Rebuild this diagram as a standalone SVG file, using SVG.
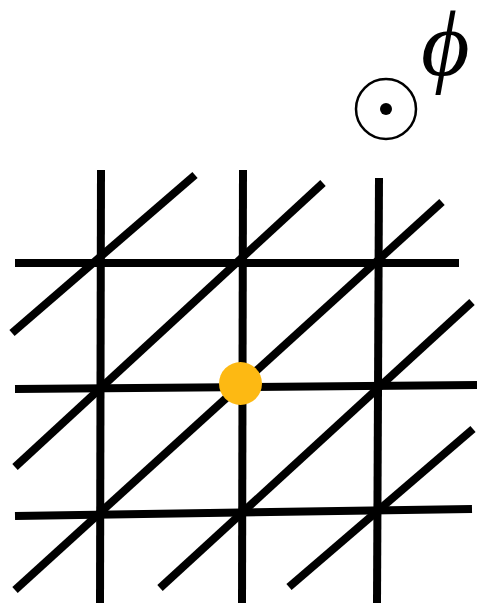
<svg xmlns="http://www.w3.org/2000/svg" width="477" height="603" viewBox="0 0 477 603">
<style>
.ln{stroke:#000;stroke-width:8;fill:none;stroke-linecap:butt}
.phi{font-family:"Liberation Serif","DejaVu Serif",serif;font-style:italic;font-size:94px;fill:#000}
</style>
<rect width="477" height="603" fill="#fff"/>
<g id="connectors">
<line class="ln" x1="101" y1="170" x2="100" y2="603"/>
<line class="ln" x1="243" y1="170" x2="242" y2="603"/>
<line class="ln" x1="379" y1="178" x2="377" y2="603"/>
<line class="ln" x1="15" y1="263" x2="459" y2="263"/>
<line class="ln" x1="15" y1="389" x2="477" y2="385"/>
<line class="ln" x1="15" y1="516" x2="472" y2="509"/>
<line class="ln" x1="12" y1="333" x2="195" y2="175"/>
<line class="ln" x1="15" y1="467" x2="323" y2="183"/>
<line class="ln" x1="15" y1="590" x2="442" y2="202"/>
<line class="ln" x1="160" y1="588" x2="472" y2="302"/>
<line class="ln" x1="289" y1="587" x2="473" y2="429"/>
</g>
<g id="point">
<circle cx="240.5" cy="383.5" r="21.5" fill="#FDB913"/>
</g>
<g id="out-of-plane">
<circle cx="386" cy="109" r="30" fill="none" stroke="#000" stroke-width="2.5"/>
<circle cx="386" cy="109" r="6" fill="#000"/>
</g>
<g id="label-phi">
<text class="phi" x="421" y="75">ϕ</text>
</g>
</svg>
